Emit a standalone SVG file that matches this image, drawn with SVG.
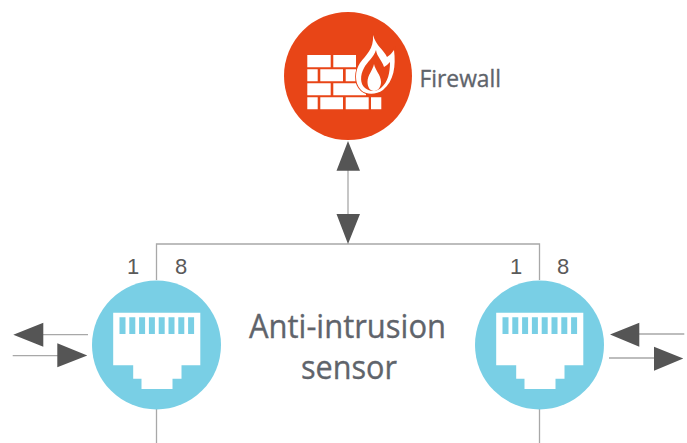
<svg xmlns="http://www.w3.org/2000/svg" width="687" height="443" viewBox="0 0 687 443">
<style>
.ln{fill:none;stroke:#a8a8a8;stroke-width:1.3}
.ah{fill:#555555}
.t{font-family:"Open Sans","Liberation Sans",sans-serif;fill:#5f646b;stroke:#5f646b;stroke-width:.35}
.n{font-family:"Liberation Sans",sans-serif;fill:#5a5a5a;font-size:22px}
.w{fill:#ffffff}
.b{fill:#79cfe5}
</style>
<defs>
<g id="port">
<circle class="b" cx="0" cy="0" r="64.500"/>
<path class="w" d="M-43.300-32.300H43.800V20.300H25V33.700H16V44H-15V33.700H-23.300V20.300H-43.300Z"/>
<path class="b" d="M-37-27.700H-31V-11H-37ZM-27.200-27.700H-21.200V-11H-27.200ZM-17.400-27.700H-11.400V-11H-17.400ZM-7.600-27.700H-1.600V-11H-7.600ZM2.200-27.700H8.200V-11H2.200ZM12-27.700H18V-11H12ZM21.800-27.700H27.800V-11H21.800ZM31.600-27.700H37.600V-11H31.600Z"/>
</g>
</defs>
<g id="connectors">
<path class="ln" d="M156.500 280V244H539.500V280"/>
<path class="ln" d="M156.500 409V443M539.500 409V443"/>
<path class="ln" d="M348 165V220"/>
<path class="ah" d="M348 141L360 170.700H336.500ZM348 244L336.500 214H360Z"/>
<path class="ln" d="M88 334.700H42M12.700 355.700H60"/>
<path class="ah" d="M13.300 334.700L43.300 322.700V346.700ZM87.300 355.500L57.300 343.300V367.300Z"/>
<path class="ln" d="M684.300 334H638M609 358H656"/>
<path class="ah" d="M610 334.500L639.300 322.700V346.700ZM683.300 358.500L654 346.700V370.700Z"/>
</g>
<g id="firewall">
<circle cx="348" cy="76" r="64" fill="#e84517"/>
<path class="w" d="M307.300 55H330.700V67.300H307.300ZM333.300 55H356V67.300H333.300ZM307.300 69.300H317.700V81.300H307.300ZM320.300 69.300H343V81.300H320.300ZM345.700 69.300H356V81.300H345.700ZM307.300 83.300H330.700V95.300H307.300ZM333.300 83.300H366V95.300H333.300ZM307.300 97.300H317.700V109.300H307.300ZM320.300 97.300H343V109.300H320.300ZM345.700 97.300H368.700V109.300H345.700ZM371 97.300H381.300V109.300H371Z"/>
<path fill="#e84517" stroke="#e84517" stroke-width="3" d="M373 35C376 46 384 50 387 57C390 55 392 53 394 50C396 66 394 81 382 90C376 95 367 94 362 90C354 83 356 70 361 63C366 55 374 49 373 35Z"/>
<path class="w" fill-rule="evenodd" d="M373 35C376 46 384 50 387 57C390 55 392 53 394 50C396 66 394 81 383 90C376 95 366 95 361 90C354 83 355 70 360 63C366 55 374 49 373 35ZM376 50C374 57 367 62 364 68C360 75 360 84 365 88C370 92 376 92 381 88C388 82 390 73 390 62C388 64 386 66 384 67C382 60 377 57 376 50Z"/>
<path class="w" d="M374 64C375 70 381 75 381 82C381 87 378 91 374 91C370 91 367.500 87 367.500 82C367.500 75 373 70 374 64Z"/>
<text class="t" x="419.500" y="87" font-size="24.500" textLength="81.500" lengthAdjust="spacingAndGlyphs">Firewall</text>
</g>
<g id="sensor-left">
<use href="#port" x="156.500" y="345"/>
<text class="n" x="127" y="274">1</text>
<text class="n" x="175" y="274">8</text>
</g>
<g id="sensor-right">
<use href="#port" x="539.500" y="345"/>
<text class="n" x="510" y="274">1</text>
<text class="n" x="557" y="274">8</text>
</g>
<g id="label">
<text class="t" x="249" y="338" font-size="32.500" textLength="197" lengthAdjust="spacingAndGlyphs">Anti-intrusion</text>
<text class="t" x="301" y="379" font-size="32.500" textLength="96" lengthAdjust="spacingAndGlyphs">sensor</text>
</g>
</svg>
